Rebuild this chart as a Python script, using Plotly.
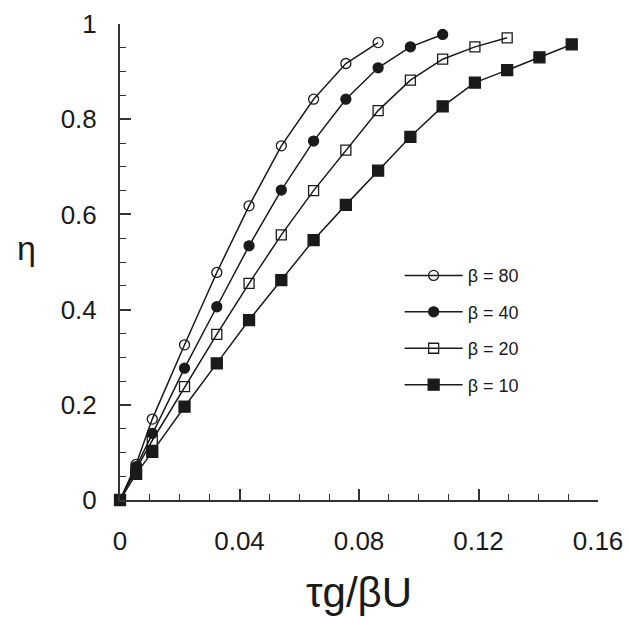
import plotly.graph_objects as go

x_grid = [0, 0.0054, 0.0108, 0.0216, 0.0324, 0.0432, 0.054, 0.0648, 0.0756,
          0.0864, 0.0972, 0.108, 0.1188, 0.1296, 0.1404, 0.1512]

eta_b80 = [0, 0.075, 0.17, 0.326, 0.478, 0.618, 0.744, 0.842, 0.917, 0.961]
eta_b40 = [0, 0.07, 0.14, 0.277, 0.406, 0.534, 0.651, 0.754, 0.842, 0.908, 0.952, 0.978]
eta_b20 = [0, 0.065, 0.125, 0.238, 0.348, 0.455, 0.557, 0.65, 0.735, 0.818, 0.882,
           0.926, 0.952, 0.971]
eta_b10 = [0, 0.055, 0.101, 0.196, 0.287, 0.378, 0.462, 0.546, 0.62, 0.692, 0.763,
           0.827, 0.877, 0.903, 0.93, 0.957]

x_tickvals = [0, 0.04, 0.08, 0.12, 0.16]
x_ticktext = ["0", "0.04", "0.08", "0.12", "0.16"]
y_tickvals = [0, 0.2, 0.4, 0.6, 0.8, 1.0]
y_ticktext = ["0", "0.2", "0.4", "0.6", "0.8", "1"]

series_names = ["β = 80", "β = 40", "β = 20", "β = 10"]
series_vals = [eta_b80, eta_b40, eta_b20, eta_b10]
symbols = ["circle-open", "circle", "square-open", "square"]
sizes = [10, 10, 10, 11]

FONT = "Liberation Sans, Arial, Helvetica, sans-serif"
INK = "#1a1a1a"

fig = go.Figure()
for i, (name, vals) in enumerate(zip(series_names, series_vals)):
    fig.add_trace(go.Scatter(
        x=x_grid[:len(vals)], y=vals, name=name, mode="lines+markers",
        legendgroup=name,
        line=dict(color=INK, width=1.5),
        marker=dict(symbol=symbols[i], size=sizes[i], color=INK,
                    line=dict(color=INK, width=1.3)),
        cliponaxis=False,
    ))

fig.update_layout(
    width=628, height=617,
    margin=dict(l=120, r=30, t=24, b=117, autoexpand=False),
    paper_bgcolor="white", plot_bgcolor="white",
    font=dict(family=FONT, color=INK),
    showlegend=True,
    legend=dict(x=0.585, y=0.51, xanchor="left", yanchor="top",
                font=dict(size=18, family=FONT, color=INK),
                bgcolor="rgba(0,0,0,0)", tracegroupgap=10, itemwidth=58),
    annotations=[dict(text="η", xref="paper", yref="paper", x=-0.195, y=0.53,
                      xanchor="center", yanchor="middle", showarrow=False,
                      font=dict(size=34, family=FONT, color=INK))],
)
fig.update_xaxes(
    range=[0, 0.16], tickmode="array", tickvals=x_tickvals, ticktext=x_ticktext,
    tickangle=0, automargin=False,
    ticks="inside", ticklen=11, tickwidth=1.5, tickcolor="#333",
    minor=dict(dtick=0.01, tick0=0, ticks="inside", ticklen=6, tickwidth=1.3, tickcolor="#333"),
    showline=True, linecolor="#333", linewidth=2, mirror=False,
    showgrid=False, zeroline=False,
    tickfont=dict(size=26, family=FONT, color=INK),
    ticklabelstandoff=17,
    title=dict(text="τg/βU", font=dict(size=42, family=FONT, color=INK), standoff=22),
)
fig.update_yaxes(
    range=[0, 1], tickmode="array", tickvals=y_tickvals, ticktext=y_ticktext,
    automargin=False,
    ticks="inside", ticklen=11, tickwidth=1.5, tickcolor="#333",
    minor=dict(dtick=0.05, tick0=0, ticks="inside", ticklen=6, tickwidth=1.3, tickcolor="#333"),
    showline=True, linecolor="#333", linewidth=2, mirror=False,
    showgrid=False, zeroline=False,
    tickfont=dict(size=26, family=FONT, color=INK),
    ticklabelstandoff=16,
)

fig.write_html(
    "out.html",
    config={"displayModeBar": False},
    post_script="document.body.style.margin='0';document.body.style.overflow='hidden';"
                "document.documentElement.style.overflow='hidden';",
)
